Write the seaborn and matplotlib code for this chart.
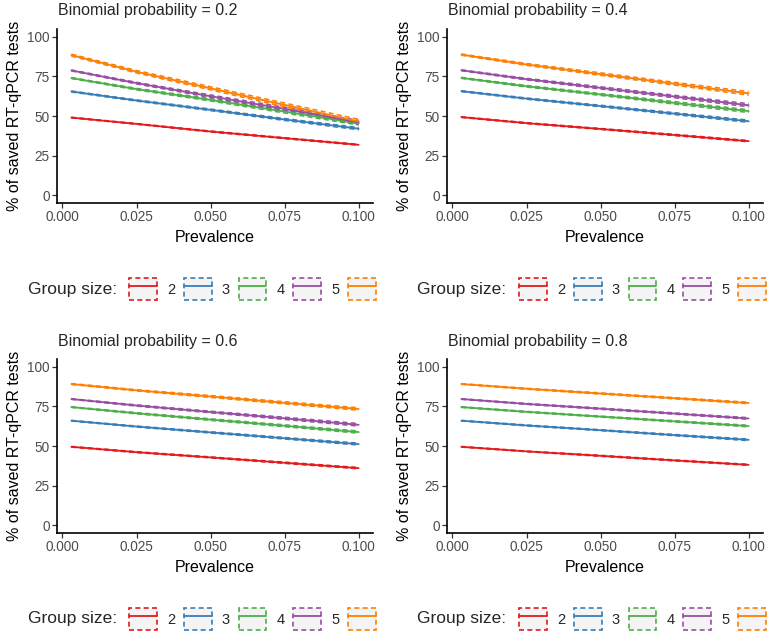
import matplotlib
matplotlib.use("Agg")
import matplotlib.pyplot as plt
import pandas as pd
import seaborn as sns
from matplotlib.lines import Line2D
from matplotlib.patches import Patch
from matplotlib.transforms import Bbox, TransformedBbox

prevalence = [0.003, 0.025, 0.05, 0.075, 0.1]
group_sizes = ["2", "3", "4", "5", "10"]
# the last legend label is cut off by the panel edge in the original
legend_labels = ["2", "3", "4", "5", ""]
colors = ["#E41A1C", "#377EB8", "#4DAF4A", "#984EA3", "#FF7F00"]
probs = ["0.2", "0.4", "0.6", "0.8"]

# % of saved tests, one list per group size
saved_02 = [[49.0, 45.0, 40.2, 36.0, 31.8],
            [65.5, 59.8, 53.9, 47.8, 42.0],
            [74.0, 67.0, 60.2, 52.8, 45.3],
            [78.8, 70.8, 62.5, 54.5, 46.0],
            [88.5, 78.0, 67.5, 57.0, 46.5]]
saved_04 = [[49.3, 45.5, 41.8, 38.0, 34.1],
            [65.7, 61.0, 56.3, 51.5, 46.7],
            [74.1, 68.8, 63.6, 58.3, 53.1],
            [78.9, 73.3, 67.8, 62.3, 56.8],
            [88.8, 82.6, 76.5, 70.4, 64.3]]
saved_06 = [[49.5, 46.1, 42.8, 39.4, 36.0],
            [66.0, 62.3, 58.6, 54.9, 51.2],
            [74.6, 70.7, 66.7, 62.8, 58.8],
            [79.7, 75.6, 71.5, 67.5, 63.4],
            [89.2, 85.2, 81.3, 77.3, 73.4]]
saved_08 = [[49.5, 46.6, 43.8, 40.9, 38.1],
            [66.0, 63.0, 60.0, 56.9, 53.9],
            [74.6, 71.6, 68.6, 65.6, 62.6],
            [79.7, 76.6, 73.6, 70.5, 67.4],
            [89.2, 86.2, 83.2, 80.2, 77.2]]

# half width of the uncertainty band
band_02 = [[0.2, 0.2, 0.3, 0.3, 0.3],
           [0.3, 0.4, 0.5, 0.6, 0.7],
           [0.3, 0.5, 0.7, 0.9, 1.0],
           [0.3, 0.5, 0.8, 1.0, 1.2],
           [0.6, 0.8, 1.0, 1.2, 1.4]]
band_04 = [[0.2, 0.3, 0.3, 0.4, 0.4],
           [0.3, 0.4, 0.5, 0.6, 0.7],
           [0.3, 0.5, 0.6, 0.8, 0.9],
           [0.3, 0.5, 0.7, 0.8, 1.0],
           [0.4, 0.6, 0.8, 0.9, 1.1]]
band_06 = [[0.2, 0.3, 0.3, 0.4, 0.4],
           [0.2, 0.3, 0.4, 0.5, 0.6],
           [0.2, 0.4, 0.5, 0.6, 0.7],
           [0.2, 0.4, 0.5, 0.7, 0.8],
           [0.3, 0.4, 0.6, 0.7, 0.8]]
band_08 = [[0.2, 0.2, 0.3, 0.3, 0.3],
           [0.2, 0.3, 0.3, 0.4, 0.5],
           [0.2, 0.3, 0.3, 0.4, 0.5],
           [0.2, 0.3, 0.4, 0.4, 0.5],
           [0.2, 0.3, 0.4, 0.4, 0.5]]

saved_all = [saved_02, saved_04, saved_06, saved_08]
band_all = [band_02, band_04, band_06, band_08]

sns.set_theme(style="white")
plt.rcParams["font.family"] = ["Liberation Sans", "DejaVu Sans"]

W, H = 770, 636
fig = plt.figure(figsize=(W / 100, H / 100), dpi=100)


def fx(px):
    return px / W


def fy(py):
    return 1 - py / H


# panel boxes in pixels: left, top, right, bottom
boxes = [(57, 29, 373, 203), (447, 29, 763, 203),
         (57, 359, 373, 533), (447, 359, 763, 533)]
legend_x = [(28, 129), (417, 519), (28, 129), (417, 519)]
dash = (0, (3.2, 2.2))

for k, (l, t, r, b) in enumerate(boxes):
    ax = fig.add_axes([fx(l), fy(b), fx(r) - fx(l), fy(t) - fy(b)])
    rows = []
    for g, gs in enumerate(group_sizes):
        for i, p in enumerate(prevalence):
            v = saved_all[k][g][i]
            h = band_all[k][g][i]
            rows.append({"prev": p, "saved": v, "lo": v - h, "hi": v + h, "group": gs})
    df = pd.DataFrame(rows)
    pal = dict(zip(group_sizes, colors))
    for gs in group_sizes:
        d = df[df["group"] == gs]
        ax.fill_between(d["prev"], d["lo"], d["hi"], color="#BEBEBE", alpha=0.25, lw=0)
        ax.plot(d["prev"], d["lo"], color=pal[gs], lw=1.1, ls=dash)
        ax.plot(d["prev"], d["hi"], color=pal[gs], lw=1.1, ls=dash)
    sns.lineplot(data=df, x="prev", y="saved", hue="group", palette=pal,
                 hue_order=group_sizes, lw=1.3, legend=False, ax=ax)

    ax.set_xlim(-0.00185, 0.10485)
    ax.set_ylim(-5, 105)
    ax.set_xticks([0.0, 0.025, 0.05, 0.075, 0.1])
    ax.set_xticklabels(["0.000", "0.025", "0.050", "0.075", "0.100"])
    ax.set_yticks([0, 25, 50, 75, 100])
    ax.tick_params(axis="both", length=3.5, width=0.9, color="#333333",
                   labelcolor="#4D4D4D", labelsize=9.8, pad=1.8,
                   bottom=True, left=True)
    for s in ["top", "right"]:
        ax.spines[s].set_visible(False)
    for s in ["left", "bottom"]:
        ax.spines[s].set_color("black")
        ax.spines[s].set_linewidth(1.2)
    ax.set_xlabel("Prevalence", fontsize=11.5, color="black")
    ax.set_ylabel("% of saved RT-qPCR tests", fontsize=11.5, color="black")
    ax.xaxis.set_label_coords(0.5, -35 / (b - t), transform=ax.transAxes)
    ax.xaxis.label.set_va("center")
    ax.yaxis.set_label_coords(-42 / (r - l), 0.5, transform=ax.transAxes)
    ax.yaxis.label.set_va("center")

    fig.text(fx(l + 1), fy(t - 18), "Binomial probability = " + probs[k],
             fontsize=11.5, va="center", ha="left")

    # legend row
    ly = b + 86
    tx, kx = legend_x[k]
    fig.text(fx(tx), fy(ly), "Group size:", fontsize=12.5, va="center", ha="left")
    handles = [(Patch(facecolor="#F4F4F4", edgecolor=c, lw=1.2, ls=(0, (3, 2))),
                Line2D([], [], color=c, lw=1.3)) for c in colors]
    leg = fig.legend(handles, legend_labels, ncol=5, loc="center left",
                     bbox_to_anchor=(fx(kx), fy(ly)), frameon=False,
                     fontsize=10.5, handlelength=1.9, handleheight=1.9,
                     handletextpad=0.7, columnspacing=0.6,
                     borderpad=0, borderaxespad=0)
    clip = TransformedBbox(Bbox([[0, 0], [0.5, 1]]) if k % 2 == 0 else Bbox([[0.5, 0], [1, 1]]),
                           fig.transFigure)
    for txt in leg.get_texts():
        txt.set_clip_box(clip)
        txt.set_clip_on(True)

plt.savefig("out.png", dpi=100)
